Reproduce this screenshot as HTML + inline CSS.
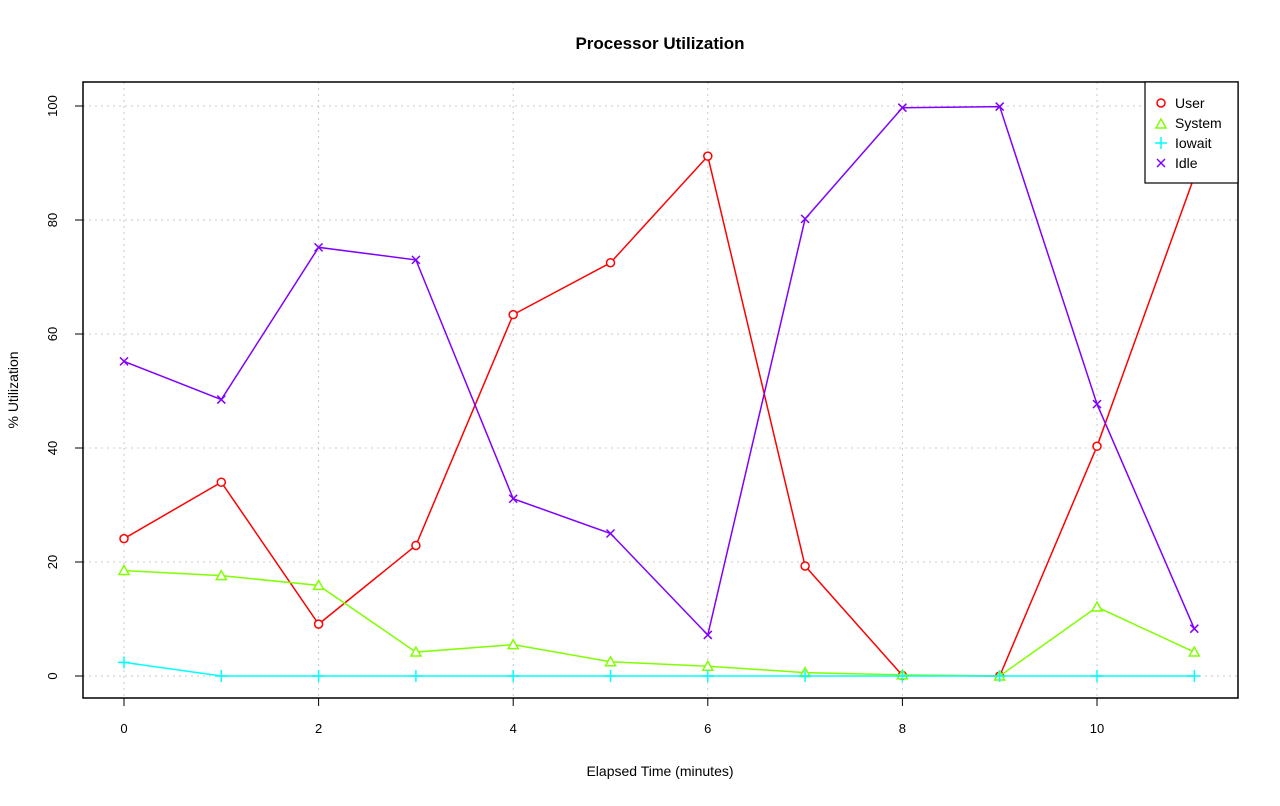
<!DOCTYPE html>
<html><head><meta charset="utf-8"><style>
html,body{margin:0;padding:0;background:#fff;}
svg text{font-family:"Liberation Sans",sans-serif;}
</style></head><body>
<svg id="s" width="1280" height="801" xmlns="http://www.w3.org/2000/svg">
<rect width="1280" height="801" fill="#fff"/>
<text x="660" y="49" text-anchor="middle" font-size="17" font-weight="bold">Processor Utilization</text>
<text x="660" y="776" text-anchor="middle" font-size="14">Elapsed Time (minutes)</text>
<text transform="translate(18,390) rotate(-90)" text-anchor="middle" font-size="14">% Utilization</text>
<g id="grid" stroke="#c8c8c8" stroke-dasharray="2,4" stroke-width="1"></g>
<g id="ax" font-size="13"></g>
<g id="series"></g>
<rect x="83" y="82" width="1155" height="616" fill="none" stroke="#000" stroke-width="1.5"/>
<rect x="1145" y="82" width="93" height="101" fill="#fff" stroke="#000" stroke-width="1.2"/>
<g font-size="14">
<circle cx="1161" cy="103" r="4" fill="none" stroke="#ff0000" stroke-width="1.5"/><text x="1175" y="108">User</text>
<path d="M1156,128 L1161,119 L1166,128 Z" fill="none" stroke="#80ff00" stroke-width="1.5"/><text x="1175" y="128">System</text>
<path d="M1155,143 H1167 M1161,137 V149" stroke="#00ffff" stroke-width="1.5"/><text x="1175" y="148">Iowait</text>
<path d="M1157,159 L1165,167 M1165,159 L1157,167" stroke="#8000ff" stroke-width="1.5"/><text x="1175" y="168">Idle</text>
</g>
</svg>
<script>
var NS="http://www.w3.org/2000/svg",s=document.getElementById('s');
function X(i){return 124+97.3*i;}function Y(v){return 676-5.7*v;}
function el(p,t,a){var e=document.createElementNS(NS,t);for(var k in a)e.setAttribute(k,a[k]);p.appendChild(e);return e;}
var g=document.getElementById('grid'),ax=document.getElementById('ax');
for(var i=0;i<=10;i+=2){el(g,'line',{x1:X(i),x2:X(i),y1:82,y2:698});
el(ax,'line',{x1:X(i),x2:X(i),y1:698,y2:706,stroke:'#000'});
var t=el(ax,'text',{x:X(i),y:733,'text-anchor':'middle','font-size':13});t.textContent=i;}
el(ax,'line',{x1:X(0),x2:X(10),y1:698,y2:698,stroke:'#000'});
for(var v=0;v<=100;v+=20){el(g,'line',{x1:83,x2:1238,y1:Y(v),y2:Y(v)});
el(ax,'line',{x1:75,x2:83,y1:Y(v),y2:Y(v),stroke:'#000'});
var t=el(ax,'text',{transform:'translate(57,'+Y(v)+') rotate(-90)','text-anchor':'middle','font-size':13});t.textContent=v;}
el(ax,'line',{x1:83,x2:83,y1:Y(0),y2:Y(100),stroke:'#000'});
var D=[["#ff0000","o",[24.1,34,9.1,22.9,63.4,72.5,91.2,19.3,0.1,0,40.3,87.6]],
["#80ff00","t",[18.5,17.6,15.9,4.2,5.5,2.5,1.7,0.6,0.2,0,12.1,4.2]],
["#00ffff","p",[2.4,0,0,0,0,0,0,0,0,0,0,0]],
["#8000ff","x",[55.2,48.5,75.2,73,31.1,25,7.2,80.2,99.7,99.9,47.7,8.3]]];
var sg=document.getElementById('series');
D.forEach(function(d){var c=d[0],pts=d[2].map(function(v,i){return [X(i),Y(v)];});
el(sg,'polyline',{points:pts.map(function(p){return p.join(',')}).join(' '),fill:'none',stroke:c,'stroke-width':1.5});
pts.forEach(function(p){var x=p[0],y=p[1];
if(d[1]=='o')el(sg,'circle',{cx:x,cy:y,r:4,fill:'#fff',stroke:c,'stroke-width':1.5});
else if(d[1]=='t')el(sg,'path',{d:'M'+(x-5)+','+(y+4)+' L'+x+','+(y-5)+' L'+(x+5)+','+(y+4)+' Z',fill:'#fff',stroke:c,'stroke-width':1.5});
else if(d[1]=='p')el(sg,'path',{d:'M'+(x-6)+','+y+' H'+(x+6)+' M'+x+','+(y-6)+' V'+(y+6),stroke:c,'stroke-width':1.5});
else el(sg,'path',{d:'M'+(x-4)+','+(y-4)+' L'+(x+4)+','+(y+4)+' M'+(x+4)+','+(y-4)+' L'+(x-4)+','+(y+4),stroke:c,'stroke-width':1.5});});});
</script>
</body></html>
